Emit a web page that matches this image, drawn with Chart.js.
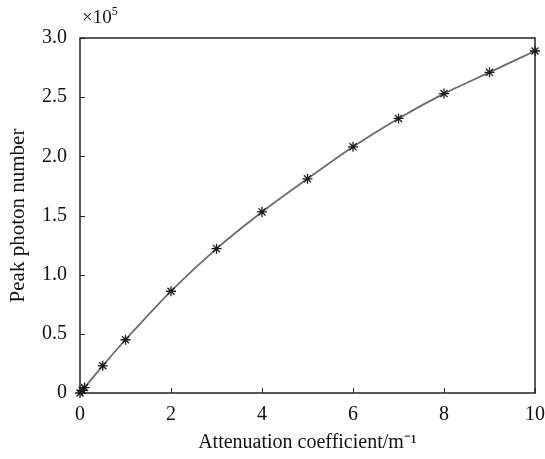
<!DOCTYPE html>
<html>
<head>
<meta charset="utf-8">
<script src="https://cdn.jsdelivr.net/npm/chart.js@4.4.0/dist/chart.umd.min.js"></script>
<style>
  html, body { margin: 0; padding: 0; background: #fff; }
  #wrap { width: 545px; height: 459px; }
</style>
</head>
<body>
<div id="wrap"><canvas id="chart" width="545" height="459"></canvas></div>
<script>
// attenuation coefficient (1/m) and peak photon number (x10^5)
const coefficients = [0, 0.05, 0.1, 0.5, 1, 2, 3, 4, 5, 6, 7, 8, 9, 10];
const photonPeaks = [0, 0.023, 0.046, 0.23, 0.45, 0.86, 1.22, 1.53, 1.81, 2.08, 2.32, 2.53, 2.71, 2.89];
const xTicks = [0, 2, 4, 6, 8, 10];
const yTicks = [0, 0.5, 1.0, 1.5, 2.0, 2.5, 3.0];

const fontFamily = '"Liberation Serif", "Times New Roman", serif';

// inward tick marks + frame, like the matlab style figure
const frameTicks = {
    id: 'frameTicks',
    afterDatasetsDraw(chart) {
        const ctx = chart.ctx;
        const area = chart.chartArea;
        const xs = chart.scales.x, ys = chart.scales.y;
        ctx.save();
        ctx.strokeStyle = '#222';
        ctx.lineWidth = 1;
        ctx.beginPath();
        xTicks.forEach(v => {
            const px = Math.round(xs.getPixelForValue(v)) + 0.5;
            ctx.moveTo(px, area.bottom);
            ctx.lineTo(px, area.bottom - 5);
        });
        yTicks.forEach(v => {
            const py = Math.round(ys.getPixelForValue(v)) + 0.5;
            ctx.moveTo(area.left, py);
            ctx.lineTo(area.left + 5, py);
        });
        ctx.stroke();
        ctx.lineWidth = 1.5;
        ctx.strokeRect(area.left, area.top, area.right - area.left, area.bottom - area.top);

        // exponent label
        ctx.fillStyle = '#111';
        ctx.font = '19px ' + fontFamily;
        ctx.textBaseline = 'alphabetic';
        ctx.textAlign = 'left';
        ctx.fillText('\u00d710', area.left + 2, 23);
        const w = ctx.measureText('\u00d710').width;
        ctx.font = '12px ' + fontFamily;
        ctx.fillText('5', area.left + 2 + w, 15);
        ctx.restore();
    }
};

const ctx = document.getElementById('chart').getContext('2d');
new Chart(ctx, {
    type: 'line',
    data: {
        datasets: [{
            data: coefficients.map((c, i) => ({x: c, y: photonPeaks[i]})),
            borderColor: '#6b6b6b',
            borderWidth: 1.8,
            tension: 0.2,
            clip: false,
            pointStyle: 'star',
            pointRadius: 5,
            pointBorderWidth: 1.3,
            pointBorderColor: '#1a1a1a',
            pointBackgroundColor: '#1a1a1a',
            fill: false
        }]
    },
    plugins: [frameTicks],
    options: {
        responsive: false,
        animation: false,
        layout: { padding: { top: 38, right: 10, left: 0, bottom: 0 } },
        plugins: {
            legend: { display: false },
            tooltip: { enabled: false }
        },
        scales: {
            x: {
                type: 'linear',
                min: 0,
                max: 10,
                afterBuildTicks: s => { s.ticks = xTicks.map(v => ({value: v})); },
                afterFit: s => { s.height = 66; s.paddingRight = 0; s.paddingLeft = 0; },
                grid: { display: false, drawTicks: false },
                border: { display: false },
                ticks: {
                    padding: 10,
                    color: '#111',
                    font: { family: fontFamily, size: 20 },
                    callback: v => String(v)
                },
                title: {
                    display: true,
                    text: 'Attenuation coefficient/m\u207b\u00b9',
                    color: '#111',
                    font: { family: fontFamily, size: 20 },
                    padding: { top: 0 }
                }
            },
            y: {
                type: 'linear',
                min: 0,
                max: 3,
                afterBuildTicks: s => { s.ticks = yTicks.map(v => ({value: v})); },
                afterFit: s => { s.width = 80; s.paddingTop = 0; s.paddingBottom = 0; },
                grid: { display: false, drawTicks: false },
                border: { display: false },
                ticks: {
                    padding: 13,
                    color: '#111',
                    font: { family: fontFamily, size: 20 },
                    callback: v => v === 0 ? '0' : v.toFixed(1)
                },
                title: {
                    display: true,
                    text: 'Peak photon number',
                    color: '#111',
                    font: { family: fontFamily, size: 21 },
                    padding: { bottom: 0, top: 6 }
                }
            }
        }
    }
});
</script>
</body>
</html>
